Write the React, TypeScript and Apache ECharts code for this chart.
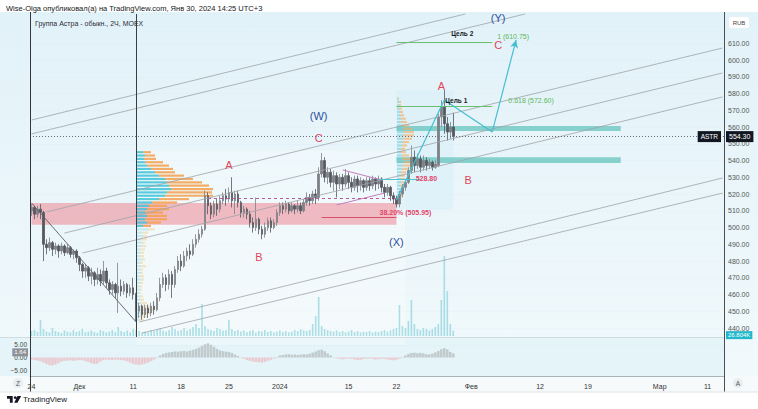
import React, { useEffect, useRef } from 'react';
import * as echarts from 'echarts';

// ---------- DATA ----------
const SLOT_COUNT = 232; // 2H-bar slots on the time axis (history + future space)
const timeLabels: [number, string][] = [
  [0, '24'], [16, 'Дек'], [34, '11'], [50, '18'], [66, '25'], [83, '2024'], [106, '15'],
  [122, '22'], [147, 'Фев'], [170, '12'], [186, '19'], [210, 'Мар'], [226, '11'],
];

// [open, close, low, high]
const candles: number[][] = [
  [510,512,507,514],[512,508,505,513],[508,511,506,513],[511,509,505,514],[509,490,480,510],
  [490,488,484,493],[488,491,486,494],[491,487,483,492],[487,489,484,491],[489,486,482,490],
  [486,489,484,491],[489,485,483,490],[485,488,484,490],[488,484,482,489],[484,486,481,487],
  [486,482,479,487],[482,478,474,483],[478,474,470,479],[474,476,470,478],[476,471,468,477],
  [471,473,466,476],[473,469,465,474],[469,472,466,476],[472,468,465,475],[468,474,466,480],
  [474,467,464,476],[467,463,460,469],[463,466,460,468],[466,461,458,467],[461,465,449,479],
  [465,462,459,469],[462,466,460,468],[466,461,458,467],[461,464,459,466],[464,460,457,470],
  [460,450,444,461],[450,453,446,455],[453,448,445,454],[448,452,446,454],[452,449,446,454],
  [449,453,447,455],[453,451,448,456],[451,458,450,461],[458,466,456,470],[466,470,464,473],
  [470,466,462,472],[466,472,463,475],[472,466,458,474],[466,475,464,477],[475,480,473,483],
  [480,477,474,484],[477,483,476,486],[483,486,480,488],[486,484,481,490],[484,490,483,493],
  [490,493,488,496],[493,496,491,499],[496,499,494,501],[499,519,498,522],[519,513,508,521],
  [513,508,505,515],[508,514,506,516],[514,511,507,517],[511,516,509,519],[516,519,514,521],
  [519,517,513,523],[517,521,515,524],[521,516,512,530],[516,520,508,522],[520,515,512,522],
  [515,509,506,516],[509,511,506,513],[511,508,505,512],[508,503,500,510],[503,500,497,506],
  [500,505,498,518],[505,499,496,506],[499,496,493,501],[496,500,494,503],[500,504,498,506],
  [504,500,497,506],[500,503,499,505],[503,509,501,511],[509,513,507,515],[513,511,508,515],
  [511,514,509,516],[514,510,508,515],[510,513,509,515],[513,511,508,514],[511,513,509,516],
  [513,510,508,515],[510,515,509,517],[515,518,513,521],[518,516,513,520],[516,520,514,522],
  [520,518,514,523],[518,532,516,536],[532,540,530,544.5],[540,530,527,542],[530,533,526,536],
  [533,527,524,535],[527,531,522,534],[531,526,518,533],[526,530,523,532],[530,526,522,532],
  [526,531,524,535],[531,527,523,533],[527,524,521,530],[524,529,522,531],[529,525,521,531],
  [525,528,522,530],[528,524,521,529],[524,528,522,530],[528,525,522,530],[525,529,523,531],
  [529,526,522,530],[526,529,523,531],[529,524,521,530],[524,521,518,526],[521,524,519,526],
  [524,519,516,525],[519,517,514,521],[517,514,512,519],[514,520,512,522],[520,524,518,526],
  [524,527,522,529],[527,534,526,536],[534,542,532,549],[542,537,533,546],[537,541,535,544],
  [541,536,533,543],[536,540,534,543],[540,537,534,542],[537,539,535,541],[539,536,534,540],
  [536,538,535,540],[537,566,536,568],[566,572,560,576],[572,562,556,582],[562,557,552,566],
  [557,560,553,563],[560,554.3,552,568.5],
];

// volume, thousands
const volumes: number[] = [
  25,30,20,80,35,22,18,40,25,20, 15,28,22,18,30,20,25,35,18,22,
  28,20,15,30,25,18,22,30,20,45, 25,20,28,18,35,30,25,20,22,18,
  30,25,35,40,28,22,30,45,35,25, 30,40,28,35,45,60,40,160,50,35,
  30,25,40,35,28,30,80,35,25,30, 22,28,20,25,30,18,25,22,30,20,
  25,18,22,28,20,25,18,22,30,25, 35,28,25,30,60,100,195,50,35,30,
  25,22,28,20,25,18,22,30,20,25, 18,22,20,25,18,22,20,25,30,22,
  28,35,40,155,50,40,75,180,60,35, 30,40,35,28,35,45,60,180,400,225,
  60,26.804,
];

const oscillator: number[] = [
  -0.8,-1.0,-1.2,-1.5,-2.0,-2.6,-3.0,-3.1,-2.8,-2.2, -1.6,-1.3,-1.2,-1.1,-1.3,-1.2,-1.0,-1.1,-1.4,-1.8,
  -2.3,-2.6,-2.4,-1.6,-1.0,-0.8,-0.9,-1.0,-0.8,-0.9, -1.0,-1.2,-1.5,-2.0,-2.5,-2.8,-2.9,-2.7,-2.4,-2.0,
  -1.4,-0.8,-0.2,0.8,1.4,1.8,2.0,2.2,2.4,2.3, 2.5,2.6,2.4,2.7,3.0,3.4,3.9,4.6,5.2,5.6,
  5.0,4.2,3.4,2.8,2.5,2.3,2.2,1.8,1.2,0.6, -0.2,-0.6,-1.0,-1.3,-1.6,-1.8,-1.9,-2.0,-1.7,-1.3,
  -0.9,-0.5,0.2,0.8,1.0,1.2,1.3,1.1,1.2,1.0, 1.1,1.3,1.2,1.5,1.9,2.4,2.9,3.1,2.5,1.6,
  0.8,0.1,-0.3,-0.5,-0.7,-0.6,-0.4,-0.5,-0.8,-1.0, -0.9,-0.6,-0.5,-0.4,-0.6,-0.8,-0.7,-0.5,-0.6,-0.8,
  -1.0,-1.1,-0.9,-0.5,0.2,0.8,1.4,1.8,1.9,1.7, 1.8,1.6,1.3,1.2,1.5,2.0,2.6,3.3,3.7,3.2,
  2.2,1.64,
];

// Left fixed-range volume profile (price buckets ascending)
const vpLeftPrices: number[] = [445,447,449,451,453,455,457,459,461,463,465,467,469,471,473,475,477,479,481,483,485,487,489,491,493,495,497,499,501,503,505,507,509,511,513,515,517,519,521,523,525,527,529,531,533,535,537,539,541,543,545];
const vpLeftUp: number[] =   [3,4,5,6,5,4,3,3,2,3,2,3,4,3,4,3,4,3,5,3,4,3,4,5,4,6,5,12,6,10,8,10,8,10,12,15,22,28,30,34,32,30,28,22,18,14,10,8,7,8,6];
const vpLeftDown: number[] = [4,6,8,10,8,6,4,3,2,2,3,3,3,4,2,3,5,3,3,4,3,5,5,3,6,4,6,6,8,14,22,20,18,22,18,25,30,48,45,42,40,35,28,25,20,22,22,18,12,10,8];
const vpLeftValueArea: [number, number] = [501, 545];

// Right fixed-range volume profile
const vpRightPrices: number[] = [517,519,521,523,525,527,529,531,533,535,537,539,541,543,545,547,549,551,553,555,557,559,561,563,565,567,569,571,573,575,577];
const vpRightUp: number[] =   [2,3,3,4,3,4,4,3,4,5,6,6,5,5,4,4,5,5,6,6,7,6,5,4,4,3,3,2,2,2,1];
const vpRightDown: number[] = [2,2,3,3,4,3,4,5,5,6,8,10,9,7,5,4,5,7,9,11,10,9,7,6,5,4,3,3,2,2,1];

// Annotations: [slot index, price]
const channelLines: [number, number][][] = [
  [[5, 509.3], [231, 607.2]],
  [[11, 496.7], [231, 592.3]],
  [[17, 484.8], [231, 578.0]],
  [[36, 443.6], [231, 529.6]],
  [[37, 437.0], [231, 520.6]],
  [[0, 564.2], [145, 627.5]],
  [[0, 555.9], [165, 627.5]],
];
const downTrendLine: [number, number][] = [[0, 514.7], [35, 443.6]];
const triangleLines: [number, number][][] = [
  [[104, 534.4], [117, 528.4]],
  [[102, 513.5], [118, 520.6]],
];
const projectionPath: [number, number][] = [[122, 516.4], [138, 576.1], [154, 557.0], [162, 612.0]];
const lastPrice = 554.3;
const lastVolume = 26.804;
const lastOsc = 1.64;
const lastSlot = 231;
const levelDashed = { price: 517.5, from: 59, to: 122 };
const level382 = { price: 505.95, from: 97, to: 122 };
const level5288 = { price: 528.8, from: 116, to: 130 };
const targetLevels: { price: number; from: number; to: number }[] = [
  { price: 610.75, from: 122, to: 154 },
  { price: 572.6, from: 122, to: 154 },
];
const verticalLineSlot = 35;
const redZone = { from: 0, to: 122, top: 514.7, bottom: 501.6 };
const tealZones: { top: number; bottom: number }[] = [
  { top: 560.6, bottom: 557.6 },
  { top: 542.0, bottom: 538.5 },
];
const tealZoneSpan: [number, number] = [122, 197];
const rightProfileBox = { from: 122, to: 141, top: 582, bottom: 510.6 };
const leftProfileBox = { from: 35, to: 125, top: 546, bottom: 430 };

type Lbl = { text: string; slot: number; price: number; kind: 'red' | 'blue' | 'black' | 'green' | 'redSmall' };
const waveLabels: Lbl[] = [
  { text: 'A', slot: 66, price: 537.3, kind: 'red' },
  { text: 'B', slot: 76, price: 482.4, kind: 'red' },
  { text: 'C', slot: 96, price: 553.5, kind: 'red' },
  { text: '(W)', slot: 96, price: 566.6, kind: 'blue' },
  { text: '(X)', slot: 122, price: 491.4, kind: 'blue' },
  { text: 'B', slot: 146, price: 528.4, kind: 'red' },
  { text: 'A', slot: 137, price: 584.5, kind: 'red' },
  { text: 'C', slot: 156, price: 609.0, kind: 'red' },
  { text: '(Y)', slot: 156, price: 625.1, kind: 'blue' },
  { text: 'Цель 2', slot: 144, price: 615.6, kind: 'black' },
  { text: 'Цель 1', slot: 142, price: 576.1, kind: 'black' },
  { text: '1 (610.75)', slot: 161, price: 613.8, kind: 'green' },
  { text: '0.618 (572.60)', slot: 167, price: 576.1, kind: 'green' },
  { text: '528.80', slot: 132, price: 529.0, kind: 'redSmall' },
  { text: '38.20% (505.95)', slot: 125, price: 508.7, kind: 'redSmall' },
];

// ---------- STYLE ----------
const FONT = 'Liberation Sans, Arial, sans-serif';
const labelStyles: Record<string, any> = {
  red: { color: '#e0455a', fontSize: 11 },
  blue: { color: '#2f4f9c', fontSize: 11 },
  black: { color: '#131722', fontSize: 6.5, fontWeight: 'bold' },
  green: { color: '#5cb85c', fontSize: 7 },
  redSmall: { color: '#e0456a', fontSize: 7, fontWeight: 'bold' },
};
const INVISIBLE_LINE = { color: 'rgba(0,0,0,0)', width: 0 };

const TV_LOGO = 'M0 0H6V7H3V3H0Z M8.6 0.2A1.5 1.5 0 1 1 8.59 0.2Z M11 0H15L11 7H7.6Z';
echarts.graphic.registerShape('tvlogo', echarts.graphic.extendPath(TV_LOGO, {}) as any);

function buildOption() {
  const slots = Array.from({ length: SLOT_COUNT }, (_, i) => String(i));
  const labelMap: Record<number, string> = {};
  timeLabels.forEach(([i, t]) => (labelMap[i] = t));

  const seg = (a: [number, number], b: [number, number], style: any, extraA: any = {}, extraB: any = {}) => [
    { coord: a, lineStyle: style, ...extraA },
    { coord: b, ...extraB },
  ];

  const gray = { color: '#9ea3a8', width: 0.8, type: 'solid' };
  const markLines: any[] = [];
  channelLines.forEach((l) => markLines.push(seg(l[0], l[1], gray)));
  markLines.push(seg(downTrendLine[0], downTrendLine[1], { color: '#5a5e63', width: 0.9, type: 'solid' }));
  triangleLines.forEach((l) => markLines.push(seg(l[0], l[1], { color: '#c47fc0', width: 1, type: 'solid' })));
  markLines.push(seg([levelDashed.from, levelDashed.price], [levelDashed.to, levelDashed.price], { color: '#b65a98', width: 1, type: [3, 3] }));
  markLines.push(seg([level382.from, level382.price], [level382.to, level382.price], { color: '#d9506a', width: 1.2, type: 'solid' }));
  markLines.push(seg([level5288.from, level5288.price], [level5288.to, level5288.price], { color: '#4fc3cf', width: 1, type: 'solid' }));
  targetLevels.forEach((t) => markLines.push(seg([t.from, t.price], [t.to, t.price], { color: '#6cbf6c', width: 1, type: 'solid' })));
  for (let k = 0; k < projectionPath.length - 1; k++) {
    const last = k === projectionPath.length - 2;
    markLines.push(seg(projectionPath[k], projectionPath[k + 1], { color: '#45bfd0', width: 1.2, type: 'solid' },
      { symbol: 'none' }, last ? { symbol: 'arrow', symbolSize: [6, 8] } : { symbol: 'none' }));
  }
  markLines.push(seg([verticalLineSlot, 434.7], [verticalLineSlot, 627.5], { color: '#3a3d42', width: 1, type: 'solid' }));
  markLines.push({
    yAxis: lastPrice,
    lineStyle: { color: '#6b6f75', width: 1, type: [1, 2] },
    label: { show: true, position: 'end', distance: 2, formatter: lastPrice.toFixed(2), color: '#fff', backgroundColor: '#131722', padding: [2, 3], fontSize: 7, fontFamily: FONT },
  });

  const markAreas: any[] = [
    [{ coord: [leftProfileBox.from, leftProfileBox.top], itemStyle: { color: 'rgba(255,255,255,0.3)' } }, { coord: [leftProfileBox.to, leftProfileBox.bottom] }],
    [{ coord: [redZone.from, redZone.top], itemStyle: { color: 'rgba(238,100,115,0.42)' } }, { coord: [redZone.to, redZone.bottom] }],
    [{ coord: [rightProfileBox.from, rightProfileBox.top], itemStyle: { color: 'rgba(215,238,248,0.55)' } }, { coord: [rightProfileBox.to, rightProfileBox.bottom] }],
    ...tealZones.map((z) => [
      { coord: [tealZoneSpan[0], z.top], itemStyle: { color: 'rgba(70,185,175,0.6)' } },
      { coord: [tealZoneSpan[1], z.bottom] },
    ]),
  ];

  const markPoints: any[] = waveLabels.map((l) => ({
    coord: [l.slot, l.price],
    symbol: 'rect',
    symbolSize: 1,
    itemStyle: { color: 'rgba(0,0,0,0)' },
    label: { show: true, position: 'inside', formatter: l.text, fontFamily: FONT, ...labelStyles[l.kind] },
  }));
  markPoints.push({
    coord: [lastSlot, lastPrice],
    symbol: 'rect',
    symbolSize: 1,
    itemStyle: { color: 'rgba(0,0,0,0)' },
    label: { show: true, position: 'left', distance: 1, formatter: 'ASTR', color: '#fff', backgroundColor: '#131722', padding: [2, 3], fontSize: 6.5, fontFamily: FONT },
  });

  const inVA = (p: number) => p >= vpLeftValueArea[0] && p <= vpLeftValueArea[1];
  const hiddenAxis = { show: false };

  return {
    animation: false,
    textStyle: { fontFamily: FONT },
    grid: [
      { left: 30, right: 34, top: 14, bottom: 64.2 },
      { left: 30, right: 34, top: 236, height: 100 },
      { left: 30, right: 34, top: 338.5, height: 38 },
      { left: 137, width: 100, top: 150.5, height: 171 },
      { left: 397, width: 100, top: 96.9, height: 103.8 },
    ],
    xAxis: [
      { type: 'category', gridIndex: 0, data: slots, ...hiddenAxis, boundaryGap: true },
      { type: 'category', gridIndex: 1, data: slots, ...hiddenAxis, boundaryGap: true },
      {
        type: 'category', gridIndex: 2, data: slots, boundaryGap: true,
        axisLine: { show: true, onZero: false, lineStyle: { color: '#a9b3b8' } },
        axisTick: { show: false },
        axisLabel: {
          interval: 0, margin: 6, fontSize: 7, color: '#333',
          formatter: (_v: string, i: number) => labelMap[i] ?? '',
        },
      },
      { type: 'value', gridIndex: 3, min: 0, max: 100, ...hiddenAxis },
      { type: 'value', gridIndex: 4, min: 0, max: 100, ...hiddenAxis },
    ],
    yAxis: [
      {
        type: 'value', gridIndex: 0, position: 'right', min: 430, max: 627.5, interval: 10,
        axisLine: { show: true, lineStyle: { color: '#4a4f55' } },
        axisTick: { show: false },
        axisLabel: {
          margin: 4, fontSize: 7, color: '#555',
          formatter: (v: number) => (v >= 440 && v <= 610 && Math.abs(v % 10) < 1e-6 ? v.toFixed(2) : ''),
        },
        splitLine: { show: true, lineStyle: { color: 'rgba(190,215,225,0.35)', type: [1, 3] } },
      },
      { type: 'value', gridIndex: 1, min: 0, max: 500, ...hiddenAxis },
      {
        type: 'value', gridIndex: 2, position: 'left', min: -7.5, max: 7.5, interval: 2.5,
        axisLine: { show: false }, axisTick: { show: false },
        axisLabel: {
          margin: 3, fontSize: 6.5, color: '#444',
          formatter: (v: number) => (Math.abs(v) === 5 || v === 0 ? v.toFixed(2).replace('-', '−') : ''),
        },
        splitLine: { show: false },
      },
      { type: 'category', gridIndex: 3, data: vpLeftPrices.map(String), ...hiddenAxis },
      { type: 'category', gridIndex: 4, data: vpRightPrices.map(String), ...hiddenAxis },
    ],
    graphic: [
      { type: 'rect', z: -20, silent: true, shape: { x: 0, y: 12, width: 758, height: 364 },
        style: { fill: new echarts.graphic.LinearGradient(0, 0, 0, 1, [{ offset: 0, color: '#e2f2f9' }, { offset: 1, color: '#f1f9fb' }]) } },
      { type: 'rect', z: -19, silent: true, shape: { x: 0, y: 338, width: 724, height: 38 }, style: { fill: '#e4f4f8' } },
      { type: 'rect', z: -19, silent: true, shape: { x: 0, y: 376, width: 758, height: 16 }, style: { fill: '#f7fafb' } },
      { type: 'line', z: 50, silent: true, shape: { x1: 0, y1: 337.5, x2: 724, y2: 337.5 }, style: { stroke: '#cfdde3', lineWidth: 1 } },
      { type: 'line', z: 50, silent: true, shape: { x1: 30.5, y1: 12, x2: 30.5, y2: 392 }, style: { stroke: '#33363a', lineWidth: 1 } },
      { type: 'line', z: 50, silent: true, shape: { x1: 724.5, y1: 12, x2: 724.5, y2: 392 }, style: { stroke: '#4a4f55', lineWidth: 1 } },
      { type: 'line', z: 50, silent: true, shape: { x1: 0, y1: 392, x2: 758, y2: 392 }, style: { stroke: '#dfe5e8', lineWidth: 1 } },
      { type: 'text', z: 60, silent: true, x: 6, y: 4, style: { text: 'Wise-Olga опубликовал(а) на TradingView.com, Янв 30, 2024 14:25 UTC+3', fontSize: 7.5, fill: '#131722', fontFamily: FONT } },
      { type: 'text', z: 60, silent: true, x: 35, y: 20, style: { text: 'Группа Астра - обыкн., 2Ч, MOEX', fontSize: 7, fill: '#2a2e33', fontFamily: FONT } },
      { type: 'rect', z: 60, silent: true, shape: { x: 729, y: 17, width: 20, height: 11, r: 2 }, style: { fill: '#ffffff' } },
      { type: 'text', z: 61, silent: true, x: 739, y: 22.5, style: { text: 'RUB', fontSize: 6, fill: '#444', align: 'center', verticalAlign: 'middle', fontFamily: FONT } },
      { type: 'circle', z: 60, silent: true, shape: { cx: 18, cy: 383, r: 5 }, style: { fill: '#e8edef' } },
      { type: 'text', z: 61, silent: true, x: 18, y: 383, style: { text: 'Z', fontSize: 6.5, fill: '#555', align: 'center', verticalAlign: 'middle', fontFamily: FONT } },
      { type: 'circle', z: 60, silent: true, shape: { cx: 738, cy: 383, r: 5 }, style: { fill: '#e8edef' } },
      { type: 'text', z: 61, silent: true, x: 738, y: 383, style: { text: 'A', fontSize: 6.5, fill: '#555', align: 'center', verticalAlign: 'middle', fontFamily: FONT } },
      { type: 'tvlogo', z: 60, silent: true, x: 7, y: 396, scaleX: 0.95, scaleY: 0.95, style: { fill: '#131722' } },
      { type: 'text', z: 60, silent: true, x: 23, y: 399.5, style: { text: 'TradingView', fontSize: 8, fill: '#131722', verticalAlign: 'middle', fontFamily: FONT } },
    ],
    series: [
      {
        type: 'bar', name: 'VP left up', xAxisIndex: 3, yAxisIndex: 3, stack: 'vpl', z: 1,
        barCategoryGap: '35%', silent: true,
        data: vpLeftUp.map((v, i) => ({ value: v, itemStyle: { color: inVA(vpLeftPrices[i]) ? 'rgba(60,195,215,0.85)' : 'rgba(120,210,225,0.4)' } })),
      },
      {
        type: 'bar', name: 'VP left down', xAxisIndex: 3, yAxisIndex: 3, stack: 'vpl', z: 1,
        barCategoryGap: '35%', silent: true,
        data: vpLeftDown.map((v, i) => ({ value: v, itemStyle: { color: inVA(vpLeftPrices[i]) ? 'rgba(245,160,75,0.85)' : 'rgba(245,200,130,0.45)' } })),
      },
      {
        type: 'bar', name: 'VP right up', xAxisIndex: 4, yAxisIndex: 4, stack: 'vpr', z: 1,
        barCategoryGap: '35%', silent: true, itemStyle: { color: 'rgba(110,200,215,0.55)' }, data: vpRightUp,
      },
      {
        type: 'bar', name: 'VP right down', xAxisIndex: 4, yAxisIndex: 4, stack: 'vpr', z: 1,
        barCategoryGap: '35%', silent: true, itemStyle: { color: 'rgba(245,170,90,0.6)' }, data: vpRightDown,
      },
      {
        type: 'bar', name: 'Volume', xAxisIndex: 1, yAxisIndex: 1, barWidth: 1.6, silent: true,
        itemStyle: { color: 'rgba(95,195,210,0.5)' },
        data: volumes,
        markLine: {
          silent: true, symbol: ['none', 'none'],
          data: [{ yAxis: lastVolume, lineStyle: INVISIBLE_LINE,
            label: { show: true, position: 'end', distance: 2, offset: [0, 4.5], formatter: lastVolume.toFixed(3) + 'K', color: '#fff', backgroundColor: '#22b8cc', padding: [1, 2], fontSize: 6, fontFamily: FONT } }],
        },
      },
      {
        type: 'bar', name: 'Oscillator', xAxisIndex: 2, yAxisIndex: 2, barCategoryGap: '15%', silent: true,
        data: oscillator.map((v) => ({ value: v, itemStyle: { color: v >= 0 ? 'rgba(150,152,156,0.45)' : 'rgba(240,150,160,0.45)' } })),
        markLine: {
          silent: true, symbol: ['none', 'none'],
          data: [{ yAxis: lastOsc, lineStyle: INVISIBLE_LINE,
            label: { show: true, position: 'start', distance: 2, offset: [0, -1], formatter: lastOsc.toFixed(2), color: '#fff', backgroundColor: '#8d9197', padding: [1, 2], fontSize: 6, fontFamily: FONT } }],
        },
      },
      {
        type: 'candlestick', name: 'ASTR', xAxisIndex: 0, yAxisIndex: 0, z: 3, barWidth: 2, silent: true,
        itemStyle: { color: '#7d8086', color0: '#55585e', borderColor: '#7d8086', borderColor0: '#55585e', borderWidth: 0.8 },
        data: candles,
        markArea: { silent: true, z: 1, data: markAreas },
        markLine: { silent: true, symbol: ['none', 'none'], label: { show: false }, data: markLines, z: 4 },
        markPoint: { silent: true, data: markPoints, z: 6 },
      },
    ],
  };
}

export default function App() {
  const ref = useRef<HTMLDivElement>(null);
  useEffect(() => {
    const el = ref.current;
    if (!el) return;
    const chart = echarts.init(el, null, { renderer: 'svg' });
    chart.setOption(buildOption() as any);
    return () => chart.dispose();
  }, []);
  return <div ref={ref} style={{ position: 'fixed', left: 0, top: 0, width: 758, height: 409, background: '#ffffff' }} />;
}
